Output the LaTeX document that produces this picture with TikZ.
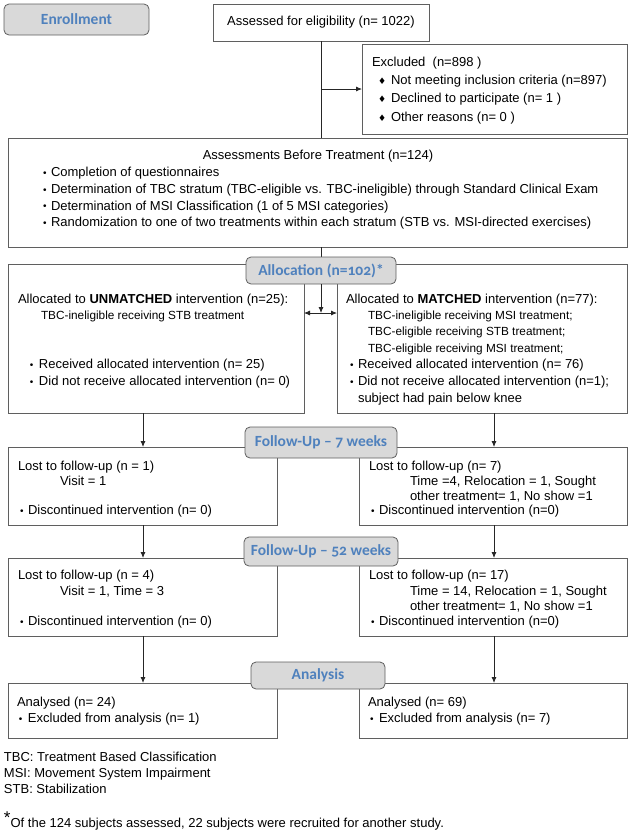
\documentclass[tikz,border=0pt]{standalone}
\usepackage{fontspec}
\setmainfont{Liberation Sans}
\newfontfamily\labfont{Carlito}[Numbers=OldStyle]
\newfontfamily\dejavu{DejaVu Sans}
\usetikzlibrary{arrows.meta}
\definecolor{labblue}{RGB}{79,129,189}
\definecolor{labfill}{RGB}{217,217,217}
\definecolor{edgec}{RGB}{95,95,95}
\newcommand\dia{\makebox[13pt][l]{\raisebox{0.3pt}{\dejavu\fontsize{9}{9}\selectfont ♦}}}
\newcommand\bl[1]{\makebox[#1][l]{\raisebox{0.3pt}{\fontsize{10}{10}\selectfont •}}}
\newcommand\mkbox[5]{\node[box, anchor=north west, minimum width={#4-#2}, minimum height={#5-#3}] (#1) at (#2,#3) {};}
\begin{document}
\begin{tikzpicture}[x=1pt,y=-1pt,
  box/.style={draw=edgec, line width=0.8pt, fill=white, inner sep=0pt, outer sep=0pt},
  lab/.style={draw=edgec, line width=0.8pt, fill=labfill, rounded corners=5pt, inner sep=0pt, outer sep=0pt, text=labblue, font=\labfont\bfseries\fontsize{15.5}{18}\selectfont},
  txt/.style={inner sep=0pt, outer sep=0pt, anchor=base west, font=\fontsize{13}{15}\selectfont},
  sub/.style={txt, font=\fontsize{11.8}{14}\selectfont},
  con/.style={line width=0.8pt, draw=black!85},
  arr/.style={con, -{Latex[length=6pt,width=5pt]}},
  darr/.style={con, {Latex[length=6pt,width=5pt]}-{Latex[length=6pt,width=5pt]}}]
\fill[white] (0,0) rectangle (640,836);
\useasboundingbox (0,0) rectangle (640,836);

% ---------- boxes ----------
\node[box, minimum width=216, minimum height=37, font=\fontsize{13}{15}\selectfont] (ass) at (321,22.5) {Assessed for eligibility (n= 1022)};
\mkbox{exc}{362}{44}{627}{134}
\mkbox{pre}{8}{138}{627}{247}
\mkbox{alL}{8}{264}{304}{413}
\mkbox{alR}{337}{264}{627}{413}
\mkbox{f7L}{8}{447}{277}{525}
\mkbox{f7R}{359}{447}{627}{525}
\mkbox{f52L}{8}{558}{277}{636}
\mkbox{f52R}{359}{558}{627}{636}
\mkbox{anL}{8}{683}{277}{738}
\mkbox{anR}{359}{683}{627}{738}

% ---------- connectors ----------
\coordinate (xL) at (143,0);
\coordinate (xR) at (494,0);
\coordinate (mid) at (321,313);
\draw[con] (ass.south) -- (ass.south |- pre.north);
\draw[arr] (ass.south |- exc.west) -- (exc.west);
\draw[con] (ass.south |- pre.south) -- (ass.south |- 0,257);
\draw[darr] (alL.east |- mid) -- (alR.west |- mid);
\draw[arr] (xL |- alL.south) -- (xL |- f7L.north);
\draw[arr] (xR |- alR.south) -- (xR |- f7R.north);
\draw[arr] (xL |- f7L.south) -- (xL |- f52L.north);
\draw[arr] (xR |- f7R.south) -- (xR |- f52R.north);
\draw[arr] (xL |- f52L.south) -- (xL |- anL.north);
\draw[arr] (xR |- f52R.south) -- (xR |- anR.north);

% ---------- stage labels ----------
\node[lab, minimum width=145, minimum height=31] (enr) at (76.5,19.5) {Enrollment};
\node[lab, minimum width=150, minimum height=27] (alab) at (321,270.5) {Allocation (n=102)*};
\node[lab, minimum width=152, minimum height=31] (f7lab) at (321,442.5) {Follow-Up – 7 weeks};
\node[lab, minimum width=154, minimum height=29] (f52lab) at (321,551.5) {Follow-Up – 52 weeks};
\node[lab, minimum width=134, minimum height=27] (anlab) at (318,675.5) {Analysis};
\draw[arr] (alab.south) -- (mid);

% ---------- excluded ----------
\node[txt] (ex0) at (372,66.5) {Excluded~ (n=898\ )};
\node[txt] (ex1) at (378,84.5) {\dia Not meeting inclusion criteria (n=897)};
\node[txt] (ex2) at (378,102.5) {\dia Declined to participate (n= 1\ )};
\node[txt] (ex3) at (378,121.5) {\dia Other reasons (n= 0\ )};

% ---------- assessments ----------
\node[txt, anchor=base] (pr0) at (318,159) {Assessments Before Treatment (n=124)};
\node[txt] (pr1) at (43,176.5) {\bl{8pt}Completion of questionnaires};
\node[txt] (pr2) at (43,193.5) {\bl{8pt}Determination of TBC stratum (TBC-eligible vs. TBC-ineligible) through Standard Clinical Exam};
\node[txt] (pr3) at (43,210) {\bl{8pt}Determination of MSI Classification (1 of 5 MSI categories)};
\node[txt] (pr4) at (43,226.5) {\bl{8pt}Randomization to one of two treatments within each stratum (STB vs. MSI-directed exercises)};

% ---------- allocation ----------
\node[txt] (al0) at (18,303.5) {Allocated to \textbf{UNMATCHED} intervention (n=25):};
\node[sub] (al1) at (41,319.5) {TBC-ineligible receiving STB treatment};
\node[txt] (al2) at (30,368.5) {\bl{9pt}Received allocated intervention (n= 25)};
\node[txt] (al3) at (30,385.5) {\bl{9pt}Did not receive allocated intervention (n= 0)};
\node[txt] (ar0) at (346,303.5) {Allocated to \textbf{MATCHED} intervention (n=77):};
\node[sub] (ar1) at (368,319.5) {TBC-ineligible receiving MSI treatment;};
\node[sub] (ar2) at (368,335.5) {TBC-eligible receiving STB treatment;};
\node[sub] (ar3) at (368,352.5) {TBC-eligible receiving MSI treatment;};
\node[txt] (ar4) at (350,368.5) {\bl{8pt}Received allocated intervention (n= 76)};
\node[txt] (ar5) at (350,385.5) {\bl{8pt}Did not receive allocated intervention (n=1);};
\node[txt] (ar6) at (358,402.5) {subject had pain below knee};

% ---------- follow-up 7 ----------
\node[txt] (fl0) at (18,470.5) {Lost to follow-up (n = 1)};
\node[txt] (fl1) at (60,485.5) {Visit = 1};
\node[txt] (fl2) at (20,514.5) {\bl{8pt}Discontinued intervention (n= 0)};
\node[txt] (fr0) at (369,470.5) {Lost to follow-up (n= 7)};
\node[txt] (fr1) at (410,485.5) {Time =4, Relocation = 1, Sought};
\node[txt] (fr2) at (410,500) {other treatment= 1, No show =1};
\node[txt] (fr3) at (371,514.5) {\bl{8pt}Discontinued intervention (n=0)};

% ---------- follow-up 52 ----------
\node[txt] (gl0) at (18,579.5) {Lost to follow-up (n = 4)};
\node[txt] (gl1) at (60,595) {Visit = 1, Time = 3};
\node[txt] (gl2) at (20,625.5) {\bl{8pt}Discontinued intervention (n= 0)};
\node[txt] (gr0) at (369,579.5) {Lost to follow-up (n= 17)};
\node[txt] (gr1) at (410,595) {Time = 14, Relocation = 1, Sought};
\node[txt] (gr2) at (410,610) {other treatment= 1, No show =1};
\node[txt] (gr3) at (371,625.5) {\bl{8pt}Discontinued intervention (n=0)};

% ---------- analysis ----------
\node[txt] (hl0) at (17,706.5) {Analysed (n= 24)};
\node[txt] (hl1) at (19,722.5) {\bl{9pt}Excluded from analysis (n= 1)};
\node[txt] (hr0) at (368,706.5) {Analysed (n= 69)};
\node[txt] (hr1) at (370,722.5) {\bl{9pt}Excluded from analysis (n= 7)};

% ---------- notes ----------
\node[txt] (n1) at (4,761.5) {TBC: Treatment Based Classification};
\node[txt] (n2) at (4,777.5) {MSI: Movement System Impairment};
\node[txt] (n3) at (4,793.5) {STB: Stabilization};
\node[txt] (n4) at (4,827.5) {\raisebox{4pt}{\fontsize{17}{17}\selectfont *}Of the 124 subjects assessed, 22 subjects were recruited for another study.};
\end{tikzpicture}
\end{document}
